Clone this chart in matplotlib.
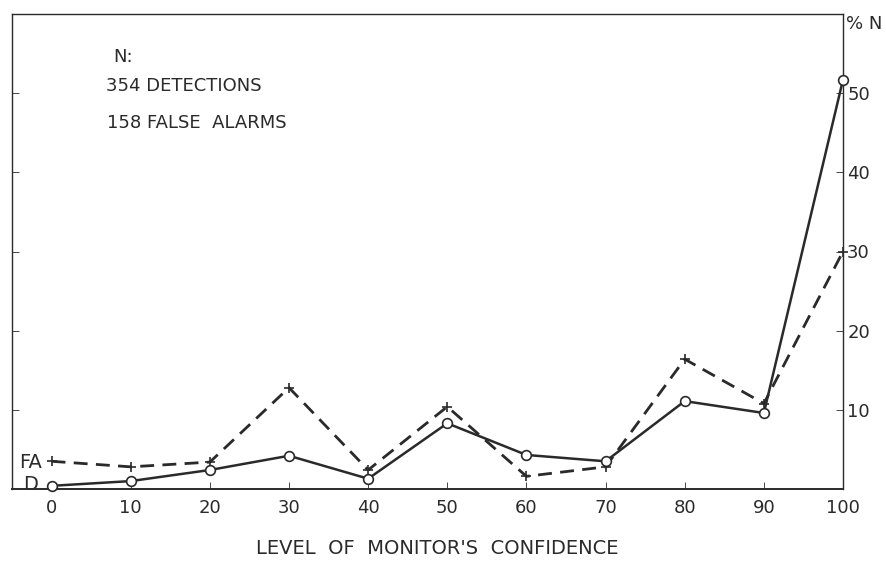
import numpy as np
from matplotlib import pyplot as plt

# Level of monitor's confidence
confidence = [0, 10, 20, 30, 40, 50, 60, 70, 80, 90, 100]
# % N, detections (D) and false alarms (FA)
detections = [0.4, 1.0, 2.4, 4.2, 1.3, 8.3, 4.3, 3.5, 11.1, 9.6, 51.7]
false_alarms = [3.5, 2.8, 3.4, 12.8, 2.4, 10.4, 1.6, 2.8, 16.4, 10.8, 30.0]

x_ticks = [0, 10, 20, 30, 40, 50, 60, 70, 80, 90, 100]
y_ticks = [10, 20, 30, 40, 50]

ink = '#2a2a2a'
plt.rcParams['font.family'] = 'DejaVu Sans'

fig = plt.figure(figsize=(8.86, 5.67), dpi=100)
# axes box: x 12..843 px, y 14..489 px
ax = fig.add_axes([12 / 886, 1 - 489 / 567, 831 / 886, 475 / 567])

def px(x, y):
    # pixel position in the picture -> axes fraction
    return (x - 12) / 831, (489 - y) / 475

ax.plot(confidence, false_alarms, color=ink, linewidth=2.0, linestyle=(0, (5, 3)),
        marker='+', markersize=7, markeredgewidth=1.2, zorder=3, clip_on=False)
ax.plot(confidence, detections, color=ink, linewidth=1.8,
        marker='o', markersize=7, markerfacecolor='white', markeredgewidth=1.2,
        zorder=4, clip_on=False)

ax.set_xlim(-5, 100)
ax.set_ylim(0, 60)

ax.set_xticks(x_ticks)
ax.set_xticklabels([str(v) for v in x_ticks], fontsize=13, color=ink)
ax.set_yticks(y_ticks)
ax.yaxis.tick_right()
ax.yaxis.set_ticks_position('both')
ax.tick_params(axis='y', direction='in', length=5, width=0.6, colors=ink,
               labelright=True, labelleft=False, labelsize=13, pad=3)
ax.tick_params(axis='x', direction='in', length=5, width=0.6, colors=ink, pad=7)

for s in ax.spines.values():
    s.set_color(ink)
    s.set_linewidth(1.0)
ax.spines['bottom'].set_linewidth(1.4)

ax.text(1.004, 0.997, '% N', transform=ax.transAxes, fontsize=13, color=ink,
        ha='left', va='top')

ax.text(*px(113, 57), 'N:', transform=ax.transAxes, fontsize=13, color=ink, va='center')
ax.text(*px(106, 86), '354 DETECTIONS', transform=ax.transAxes, fontsize=13,
        color=ink, va='center')
ax.text(*px(107, 123), '158 FALSE  ALARMS', transform=ax.transAxes, fontsize=13,
        color=ink, va='center')

ax.text(*px(31, 463), 'FA', transform=ax.transAxes, fontsize=14, color=ink,
        ha='center', va='center')
ax.text(*px(31, 485), 'D', transform=ax.transAxes, fontsize=14, color=ink,
        ha='center', va='center')

fig.text(437 / 886, 1 - 549 / 567, "LEVEL  OF  MONITOR'S  CONFIDENCE", fontsize=14,
         color=ink, ha='center', va='center')

fig.savefig('out.png', dpi=100)
